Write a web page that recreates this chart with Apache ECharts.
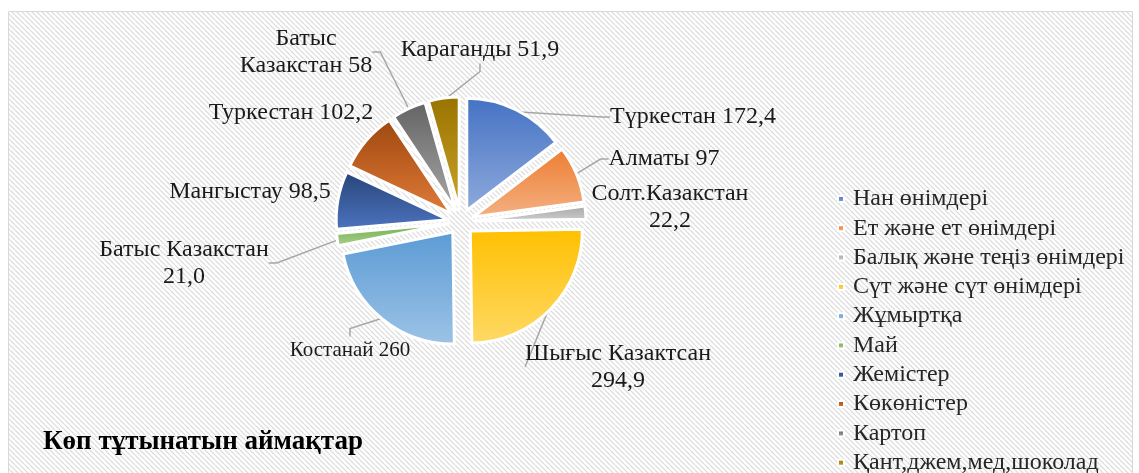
<!DOCTYPE html>
<html>
<head>
<meta charset="utf-8">
<script src="https://cdn.jsdelivr.net/npm/echarts@6/dist/echarts.min.js"></script>
<style>
html, body { margin: 0; padding: 0; background: #fff; }
#main { width: 1139px; height: 473px; }
</style>
</head>
<body>
<div id="main"></div>
<script>
// легенда: өнім түрлері
var categories = ['Нан өнімдері', 'Ет және ет өнімдері', 'Балық және теңіз өнімдері', 'Сүт және сүт өнімдері', 'Жұмыртқа', 'Май', 'Жемістер', 'Көкөністер', 'Картоп', 'Қант,джем,мед,шоколад']
// мәндер
var values = [172.4, 97, 22.2, 294.9, 260, 21.0, 98.5, 102.2, 58, 51.9]
var valueText = ['172,4', '97', '22,2', '294,9', '260', '21,0', '98,5', '102,2', '58', '51,9']
// аймақтар (жазбалар), \n = жол ауысу
var regions = ['Түркестан', 'Алматы', 'Солт.Казакстан\n', 'Шығыс Казактсан\n', 'Костанай', 'Батыс Казакстан\n', 'Мангыстау', 'Туркестан', 'Батыс\nКазакстан', 'Караганды']

// түстер: жоғарғы / төменгі
var colorTop = ['#4472C4', '#ED7D31', '#A5A5A5', '#FFC000', '#5B9BD5', '#70AD47', '#264478', '#9E480E', '#636363', '#997300']
var colorBottom = ['#8FAADC', '#F4B183', '#D0D0D0', '#FFD966', '#9DC3E6', '#A9D18E', '#4E74C0', '#E07B39', '#A8A8A8', '#CCA42A']
// жазбалардың орны (центр)
var labelAt = [[693, 117], [664, 159], [670, 207], [618, 367], [350, 350], [184, 263], [250, 192], [291, 113], [306, 52], [480, 50]]
var noLine = [2, 6, 7]

// фон үшін штрих
var tile = document.createElement('canvas')
tile.width = 5
tile.height = 5
var ctx = tile.getContext('2d')
ctx.fillStyle = '#ffffff'
ctx.fillRect(0, 0, 5, 5)
ctx.strokeStyle = '#dedede'
ctx.lineWidth = 1.3
for (var k = -1; k <= 1; k++) {
  ctx.beginPath()
  ctx.moveTo(k * 5, 0)
  ctx.lineTo(k * 5 + 5, 5)
  ctx.stroke()
}

// сегменттер (бөлініп шығарылған)
var pieData = values.map(function(v, i) {
  return {
    name: categories[i],
    value: v,
    selected: true,
    itemStyle: {
      color: new echarts.graphic.LinearGradient(0, 0, 0, 1, [
        { offset: 0, color: colorTop[i] },
        { offset: 1, color: colorBottom[i] }
      ])
    }
  }
})

// жазбалар үшін мөлдір екінші дөңгелек
var labelData = values.map(function(v, i) {
  var name = regions[i]
  var text = name.slice(-1) === '\n' ? name + valueText[i] : name + ' ' + valueText[i]
  var item = { name: categories[i], value: v, label: { formatter: text } }
  if (i === 4) item.label.fontSize = 21
  if (noLine.indexOf(i) >= 0) item.labelLine = { show: false }
  return item
})

var myChart = echarts.init(document.getElementById('main'))
var option = {
  animation: false,
  graphic: [{
    type: 'rect',
    silent: true,
    z: -10,
    shape: { x: 8.5, y: 11.5, width: 1124, height: 470 },
    style: { fill: { image: tile, repeat: 'repeat' }, stroke: '#d9d9d9', lineWidth: 1 }
  }],
  title: {
    text: 'Көп тұтынатын аймақтар',
    left: 43,
    top: 429,
    padding: 0,
    textStyle: { fontFamily: 'Liberation Serif', fontSize: 27, fontWeight: 'bold', color: '#000' }
  },
  legend: {
    orient: 'vertical',
    left: 837,
    top: 187,
    height: 320,
    padding: 0,
    icon: 'rect',
    itemWidth: 6,
    itemHeight: 6,
    itemGap: 5.3,
    selectedMode: false,
    textStyle: { fontFamily: 'Liberation Serif', fontSize: 24, lineHeight: 24, color: '#262626', padding: [0, 0, 0, 4] },
    data: categories
  },
  series: [{
    type: 'pie',
    center: [461, 222],
    radius: 112,
    startAngle: 90,
    clockwise: true,
    selectedMode: 'multiple',
    selectedOffset: 13,
    silent: true,
    itemStyle: { borderColor: '#fff', borderWidth: 3 },
    select: { itemStyle: { borderColor: '#fff', borderWidth: 3 } },
    label: { show: false },
    labelLine: { show: false },
    data: pieData
  }, {
    type: 'pie',
    center: [461, 222],
    radius: 123,
    startAngle: 90,
    clockwise: true,
    silent: true,
    avoidLabelOverlap: false,
    itemStyle: { color: 'rgba(0,0,0,0)', borderWidth: 0 },
    label: {
      show: true,
      position: 'outside',
      fontFamily: 'Liberation Serif',
      fontSize: 24,
      lineHeight: 27,
      color: '#1a1a1a',
      align: 'center'
    },
    labelLine: {
      show: true,
      length: 10,
      length2: 8,
      lineStyle: { color: '#a6a6a6', width: 1.5 }
    },
    labelLayout: function(params) {
      var p = labelAt[params.dataIndex]
      return { x: p[0], y: p[1], align: 'center', verticalAlign: 'middle' }
    },
    data: labelData
  }]
}
myChart.setOption(option)
</script>
</body>
</html>
